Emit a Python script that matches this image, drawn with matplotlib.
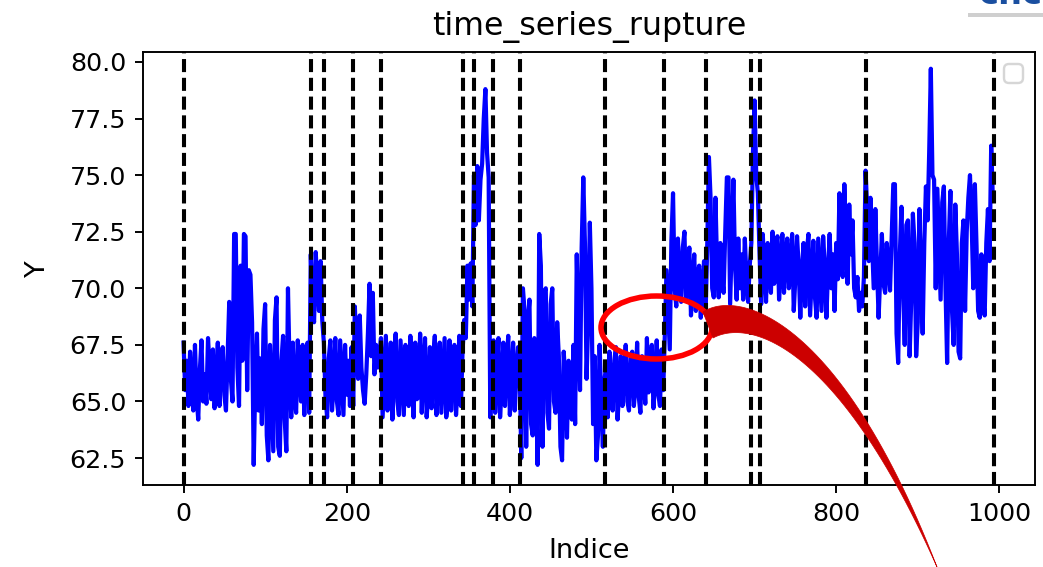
import numpy as np
import matplotlib
matplotlib.use("Agg")
import matplotlib.pyplot as plt
from matplotlib.path import Path
from matplotlib.patches import PathPatch, Ellipse
from matplotlib.transforms import Affine2D

# ---------------- data ----------------
step = 2  # spacing (in index units) of the values listed in each segment

seg_starts = [0, 156, 172, 208, 242, 344, 356, 380, 412, 518, 590, 642, 696, 706, 836]

seg_a = [67.6, 65.5, 66.8, 64.8, 67.2, 66.0, 64.6, 67.5, 65.2, 64.2,
         66.4, 67.7, 65.0, 66.2, 64.9, 67.8, 66.5, 65.1, 67.3, 64.7,
         65.9, 67.6, 64.8, 66.7, 67.4, 65.3, 64.6, 67.0,
         69.4, 66.0, 65.0, 72.4, 72.4, 66.5, 64.8, 71.0, 66.8, 72.4,
         72.3, 65.5, 70.8, 70.6, 68.5, 62.2, 66.0, 68.0, 64.6,
         66.9, 64.0, 68.2, 69.3, 63.5, 62.4, 67.5, 65.2, 62.8, 68.6,
         69.6, 63.0, 62.6, 66.8, 67.9, 64.2, 62.8, 70.0, 66.5, 64.3,
         67.6, 65.1, 64.5, 67.7, 66.2, 65.0, 67.5, 64.4, 66.8, 67.6, 64.5]
seg_b = [71.5, 69.0, 68.5, 71.6, 70.2, 69.0, 71.2, 68.6]
seg_c = [67.6, 65.2, 64.3, 66.9, 67.7, 64.6, 65.8, 67.8, 65.0, 64.4,
         67.7, 66.1, 64.4, 67.5, 65.3, 66.8, 64.8, 67.4]
seg_d = [64.8, 69.2, 67.0, 66.0, 68.8, 66.5, 65.5, 64.9, 66.2, 68.0,
         70.2, 67.0, 69.8, 66.2, 67.5, 66.5, 67.0]
seg_e = [67.8, 64.3, 66.1, 67.9, 64.6, 65.5, 67.6, 64.2, 66.8, 68.0,
         65.0, 64.4, 67.7, 66.0, 64.4, 67.5, 65.2, 64.8, 67.9, 66.3,
         64.3, 67.6, 65.1, 65.2, 68.0, 64.5, 66.6, 67.8, 64.3, 65.4,
         67.4, 64.7, 66.9, 67.9, 64.4, 65.8, 67.6, 64.5, 66.2, 67.8,
         64.3, 65.0, 67.7, 64.6, 66.4, 67.5, 64.4, 65.7, 67.9, 64.8, 67.2]
seg_f = [68.6, 67.8, 71.0, 69.5, 71.1, 69.2]
seg_g = [75.0, 72.8, 75.4, 73.0, 74.8, 75.5, 77.5, 78.8, 76.0, 74.9, 64.3, 66.5]
seg_h = [67.7, 64.5, 66.3, 67.8, 64.3, 65.6, 67.6, 64.8, 66.7, 67.9,
         64.4, 65.9, 67.6, 64.6, 66.2, 67.4]
seg_i = [66.5, 62.5, 70.0, 69.0, 63.0, 68.5, 69.5, 64.0, 63.5, 67.8,
         66.0, 62.2, 72.4, 71.0, 63.0, 69.8, 70.0, 64.5, 63.8, 69.3,
         70.0, 65.0, 64.5, 68.5, 67.0, 63.0, 62.4, 67.2, 66.0, 63.4,
         66.8, 65.2, 64.2, 67.5, 64.0, 71.5, 68.0, 65.5, 71.8, 74.9,
         72.0, 66.0, 68.5, 72.9, 70.0, 64.0, 67.0, 62.4, 63.5, 67.5,
         65.0, 63.0, 66.0]
seg_j = [66.5, 64.3, 67.2, 65.8, 64.6, 66.8, 67.4, 64.2, 65.5, 67.0,
         64.8, 66.3, 67.5, 65.0, 64.6, 66.9, 67.2, 64.8, 65.7, 67.6,
         65.2, 64.5, 67.0, 66.0, 64.9, 67.8, 65.4, 66.5, 67.5, 64.7,
         65.8, 67.7, 65.3, 64.8, 67.3, 65.5]
seg_k = [68.0, 70.8, 69.0, 67.3, 72.1, 74.2, 70.0, 69.2, 72.2, 70.5,
         69.4, 71.8, 72.5, 69.5, 70.8, 71.8, 68.8, 70.2, 71.5, 69.0,
         70.5, 71.0, 68.7, 70.0, 71.2, 69.0]
seg_l = [72.0, 75.8, 74.0, 70.0, 69.6, 74.0, 71.0, 69.6, 72.0, 70.5,
         69.8, 72.5, 74.9, 74.9, 69.3, 72.0, 74.8, 71.0, 69.5, 72.2,
         70.0, 71.5, 69.5, 72.2, 70.5, 69.4, 71.0]
seg_m = [72.0, 76.0, 78.3, 75.0, 74.2]
seg_n = [71.6, 69.3, 72.4, 70.8, 69.4, 72.0, 71.0, 69.8, 72.5, 70.2,
         71.8, 72.3, 69.5, 70.9, 72.4, 69.8, 71.5, 72.2, 70.0, 71.0,
         72.4, 69.0, 70.5, 72.3, 71.0, 68.7, 70.8, 72.0, 69.2, 71.6,
         72.4, 68.8, 70.5, 72.1, 69.6, 68.7, 72.2, 70.6, 69.0, 72.3,
         71.0, 68.7, 70.8, 72.4, 70.0, 71.5, 69.0, 72.0, 70.4, 74.2,
         71.0, 70.5, 74.6, 72.0, 70.2, 73.7, 71.5, 73.0, 70.0, 69.6,
         70.5, 69.0, 69.8, 69.2, 70.5]
seg_o = [75.2, 73.5, 71.2, 74.0, 72.0, 70.0, 73.5, 71.0, 68.7, 70.5,
         72.4, 70.2, 69.8, 72.0, 71.0, 69.9, 72.2, 74.6, 74.6, 68.0,
         66.7, 71.5, 73.6, 70.0, 67.5, 72.8, 73.0, 67.0, 69.5, 73.3,
         72.0, 67.0, 68.5, 73.5, 70.5, 68.0, 72.0, 74.5, 73.0, 76.0,
         79.7, 75.0, 74.8, 70.0, 74.4, 72.0, 69.5, 73.8, 74.5, 70.0,
         66.7, 72.0, 74.3, 69.0, 67.5, 73.7, 71.5, 67.2, 66.9, 72.0,
         73.0, 69.0, 72.5, 74.0, 75.0, 73.0, 70.0, 74.6, 71.9, 69.0,
         68.7, 71.5, 69.5, 68.8, 72.0, 73.5, 71.2, 76.3, 74.0]

segments = [seg_a, seg_b, seg_c, seg_d, seg_e, seg_f, seg_g, seg_h,
            seg_i, seg_j, seg_k, seg_l, seg_m, seg_n, seg_o]

change_points = [0, 156, 172, 208, 242, 343, 356, 379, 412, 517, 589,
                 641, 696, 706, 836, 994]

x_ticks = [0, 200, 400, 600, 800, 1000]
y_ticks = [62.5, 65.0, 67.5, 70.0, 72.5, 75.0, 77.5, 80.0]

title = "time_series_rupture"
x_label = "Indice"
y_label = "Y"

# assemble the series (indices from segment starts)
x_values, y_values = [], []
for start, vals in zip(seg_starts, segments):
    for i, v in enumerate(vals):
        x_values.append(start + step * i)
        y_values.append(v)

# ---------------- figure ----------------
DPI = 172.8
W, H = 1043, 567
fig = plt.figure(figsize=(W / DPI, H / DPI), dpi=DPI)
ax = fig.add_axes([143 / W, (H - 485) / H, 892 / W, 433 / H])

ax.plot(x_values, y_values, color="blue", linewidth=1.75)
for cp in change_points:
    ax.axvline(cp, color="k", linestyle=(0, (3.2, 1.4)), linewidth=1.7)

ax.set_xlim(-49.7, 1043.7)
ax.set_ylim(61.31, 80.44)
ax.set_xticks(x_ticks)
ax.set_yticks(y_ticks)
ax.tick_params(labelsize=10.6)
ax.set_title(title, fontsize=13.2, pad=7)
ax.set_xlabel(x_label, fontsize=11.3, labelpad=5)
ax.set_ylabel(y_label, fontsize=11.3, labelpad=8)
ax.legend(loc="upper right")

# ---------------- overlay annotations (pixel coords, y downwards) ----------------
pix = Affine2D().scale(1 / W, -1 / H).translate(0, 1) + fig.transFigure

ell = Ellipse((656.5, 327.5), 111, 63, fill=False, edgecolor="#ff0000",
              linewidth=2.3, transform=pix)
fig.add_artist(ell)


def bezier(p0, p1, p2, p3, n=60):
    t = np.linspace(0, 1, n)[:, None]
    p0, p1, p2, p3 = map(np.asarray, (p0, p1, p2, p3))
    return ((1 - t) ** 3) * p0 + 3 * ((1 - t) ** 2) * t * p1 + 3 * (1 - t) * t ** 2 * p2 + t ** 3 * p3


outer = bezier((703, 312), (738, 289), (840, 316), (937, 567))
inner = bezier((713, 338), (748, 319), (836, 340), (937, 567))[::-1]
verts = np.vstack([outer, inner, outer[:1]])
codes = [Path.MOVETO] + [Path.LINETO] * (len(verts) - 2) + [Path.CLOSEPOLY]
arrow = PathPatch(Path(verts, codes), facecolor="#cc0000", edgecolor="#cc0000",
                  linewidth=0.3, transform=pix)
fig.add_artist(arrow)

# partial logo at top right
fig.add_artist(plt.Rectangle((968, 13), 75, 4, facecolor="#b0b0b0",
                             edgecolor="none", alpha=0.6, transform=pix))
fig.text(1010 / W, 1 - 11 / H, "cnc", color="#1a4fa0", fontsize=14,
         fontweight="bold", ha="center", va="bottom")

fig.savefig("out.png", dpi=DPI)
